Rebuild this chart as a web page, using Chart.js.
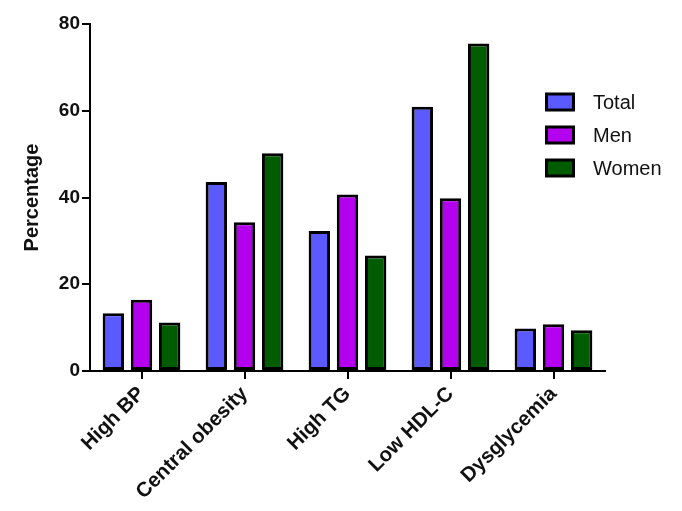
<!DOCTYPE html>
<html>
<head>
<meta charset="utf-8">
<title>Metabolic components by sex</title>
<script src="https://cdn.jsdelivr.net/npm/chart.js@4.4.1/dist/chart.umd.min.js"></script>
<style>
  html, body { margin: 0; padding: 0; background: #fff; }
  #wrap { width: 682px; height: 511px; }
</style>
</head>
<body>
<div id="wrap"><canvas id="chart"></canvas></div>
<script>
// ── Data ─────────────────────────────────────────────────────
const categories = ["High BP", "Central obesity", "High TG", "Low HDL-C", "Dysglycemia"];
const totalValues = [13.3, 43.6, 32.3, 60.9, 9.8];
const menValues   = [16.4, 34.3, 40.7, 39.8, 10.8];
const womenValues = [11.2, 50.2, 26.6, 75.5, 9.4];
const yTicks = [0, 20, 40, 60, 80];

const FONT = "'Liberation Sans', Arial, Helvetica, sans-serif";

// ── Legend drawn inside the plot (top right) ─────────────────
const boxLegend = {
  id: "boxLegend",
  afterDraw(chart) {
    const ctx = chart.ctx;
    ctx.save();
    chart.data.datasets.forEach((ds, i) => {
      const cy = 102 + i * 33;
      ctx.fillStyle = "#000";
      ctx.fillRect(545, cy - 9.5, 30, 19);
      ctx.fillStyle = ds.backgroundColor;
      ctx.fillRect(548, cy - 6.5, 24, 13);
      ctx.fillStyle = "#111";
      ctx.font = "20px " + FONT;
      ctx.textBaseline = "middle";
      ctx.fillText(ds.label, 593, cy + 1);
    });
    ctx.restore();
  }
};

const ctx = document.getElementById("chart").getContext("2d");
new Chart(ctx, {
  type: "bar",
  data: {
    labels: categories,
    datasets: [
      { label: "Total", data: totalValues, backgroundColor: "#5a5aff" },
      { label: "Men",   data: menValues,   backgroundColor: "#b300ee" },
      { label: "Women", data: womenValues, backgroundColor: "#005c00" }
    ]
  },
  options: {
    responsive: true,
    maintainAspectRatio: false,
    animation: false,
    layout: { padding: { top: 24, right: 77, bottom: 0, left: 0 } },
    datasets: {
      bar: {
        borderColor: "#000",
        borderWidth: 3,
        borderSkipped: false,
        categoryPercentage: 0.82,
        barPercentage: 0.76
      }
    },
    plugins: {
      legend: { display: false },
      tooltip: { enabled: false }
    },
    scales: {
      x: {
        afterFit: s => { s.height = 140; },
        grid: {
          offset: false,
          drawOnChartArea: false,
          color: "#000",
          lineWidth: 2,
          tickLength: 8
        },
        border: { color: "#000", width: 2 },
        ticks: {
          color: "#111",
          minRotation: 45,
          maxRotation: 45,
          padding: 3,
          font: { family: FONT, size: 20.5, weight: "bold" }
        }
      },
      y: {
        min: 0,
        max: 80,
        afterFit: s => { s.width = 90; },
        afterBuildTicks: s => { s.ticks = yTicks.map(v => ({ value: v })); },
        grid: {
          drawOnChartArea: false,
          color: "#000",
          lineWidth: 2,
          tickLength: 8
        },
        border: { color: "#000", width: 2 },
        ticks: {
          color: "#111",
          padding: 2,
          font: { family: FONT, size: 19, weight: "bold" }
        },
        title: {
          display: true,
          text: "Percentage",
          color: "#111",
          padding: { top: 20, bottom: 0 },
          font: { family: FONT, size: 20, weight: "bold" }
        }
      }
    }
  },
  plugins: [boxLegend]
});
</script>
</body>
</html>
